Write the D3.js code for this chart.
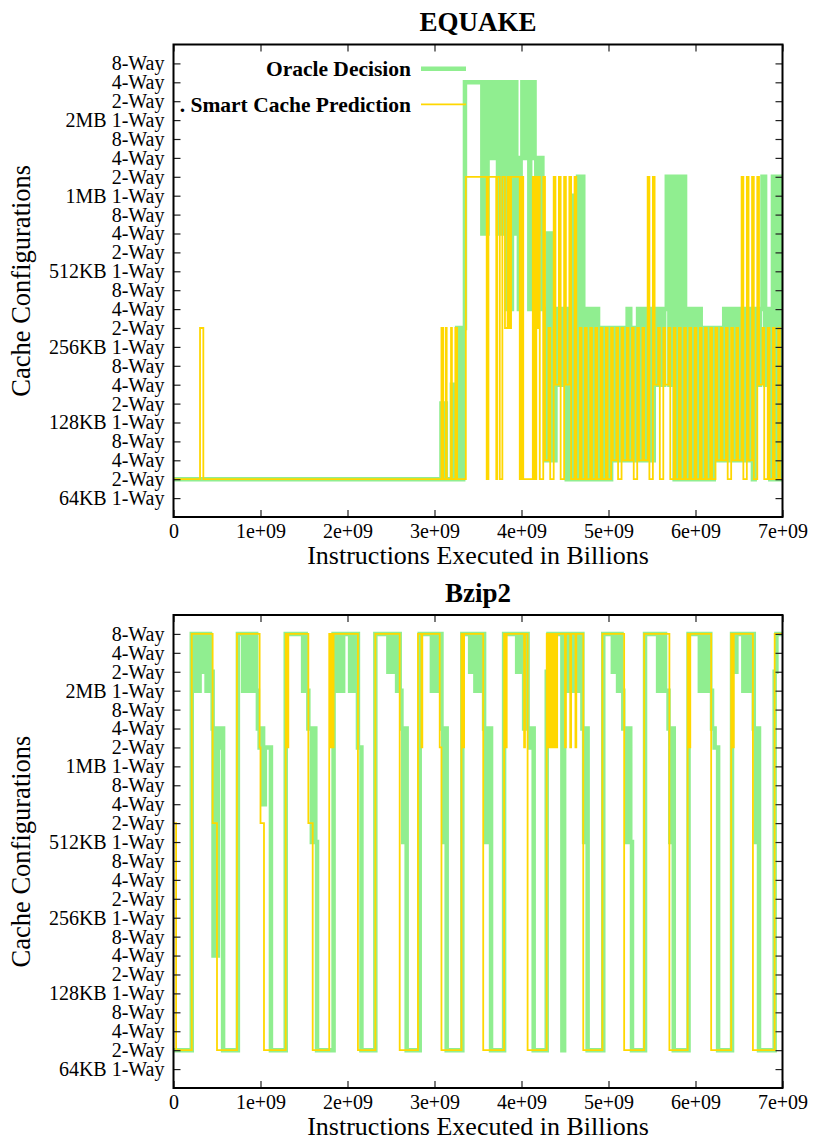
<!DOCTYPE html>
<html><head><meta charset="utf-8">
<script src="https://cdn.jsdelivr.net/npm/d3@7"></script>
<style>
body{margin:0;background:#fff;}
svg text{font-family:"Liberation Serif","Times New Roman",serif;}
</style></head><body>
<svg id="c" width="814" height="1141"></svg>
<script>
// ---------- DATA (x in billions of instructions, y = configuration index) ----------
const yTickLabels = ["64KB 1-Way","2-Way","4-Way","8-Way","128KB 1-Way","2-Way","4-Way","8-Way",
  "256KB 1-Way","2-Way","4-Way","8-Way","512KB 1-Way","2-Way","4-Way","8-Way",
  "1MB 1-Way","2-Way","4-Way","8-Way","2MB 1-Way","2-Way","4-Way","8-Way"];
const xTickValues = [0,1,2,3,4,5,6,7];
const xTickLabels = ["0","1e+09","2e+09","3e+09","4e+09","5e+09","6e+09","7e+09"];
const seriesNames = ["Oracle Decision", ". Smart Cache Prediction"];
const panelTitles = ["EQUAKE","Bzip2"];

const equakeOracle = [
 [0,1],
 [3.08,5],[3.10,1],[3.11,5],[3.13,1],
 [3.20,6],[3.22,1],[3.24,6],[3.26,9],[3.28,1],[3.30,9],[3.32,1],[3.33,9],
 [3.35,22],
 [3.55,14],[3.57,22],[3.59,14],[3.61,22],[3.64,18],[3.66,22],[3.68,18],[3.70,22],
 [3.73,14],[3.75,22],[3.77,14],[3.79,22],[3.82,14],[3.83,10],[3.85,22],[3.87,10],
 [3.89,22],[3.90,14],[3.92,22],[3.94,14],[3.95,18],[3.97,10],[3.99,18],
 [4.01,22],[4.04,18],[4.05,22],[4.07,18],[4.09,10],[4.10,18],[4.12,22],[4.15,18],
 [4.17,14],[4.19,18],[4.21,14],[4.23,18],
 [4.24,10],[4.27,2],[4.30,14],[4.33,2],[4.35,14],[4.37,2],[4.39,10],[4.42,6],[4.45,10],[4.48,6],[4.50,10],
 [4.52,1],[4.55,10],[4.57,1],[4.59,16],[4.61,1],[4.63,16],[4.65,17],[4.67,1],[4.69,17],[4.71,1],
 [4.74,10],[4.77,1],[4.80,10],[4.83,1],[4.86,10],[4.88,1],[4.91,9],[4.94,1],[4.97,9],[5.00,1],[5.03,9],
 [5.05,2],[5.08,9],[5.11,2],[5.14,9],[5.17,2],[5.20,9],[5.22,10],[5.25,2],[5.28,9],[5.31,2],[5.34,10],
 [5.37,2],[5.40,10],[5.43,2],[5.46,10],[5.49,2],[5.52,10],[5.55,6],[5.58,10],[5.61,6],[5.64,10],
 [5.67,17],[5.70,6],[5.73,17],[5.76,1],[5.79,17],[5.82,1],[5.85,17],[5.88,1],[5.91,10],[5.94,1],
 [5.97,10],[6.00,1],[6.03,10],[6.06,1],[6.09,9],[6.12,1],[6.15,9],[6.18,1],[6.21,9],[6.24,2],
 [6.27,9],[6.30,2],[6.33,10],[6.36,2],[6.38,9],[6.41,10],[6.44,2],[6.47,10],[6.49,2],[6.51,10],
 [6.54,2],[6.57,10],[6.60,2],[6.63,10],[6.66,1],[6.68,10],[6.71,6],[6.74,10],[6.77,17],[6.80,6],
 [6.83,10],[6.86,1],[6.89,17],[6.92,1],[6.95,17],[6.98,1],[7.0,17]
];

const equakePrediction = [
 [0,1],[0.305,9],[0.343,1],
 [3.08,9],[3.10,1],[3.13,9],[3.14,1],[3.19,9],[3.20,1],[3.24,9],[3.26,1],
 [3.36,17],[3.60,1],[3.62,17],[3.71,1],[3.72,17],[3.75,1],[3.78,17],[3.81,9],[3.84,17],
 [3.86,9],[3.88,17],[3.98,1],[4.00,17],[4.02,1],[4.13,17],[4.15,1],[4.17,17],[4.18,9],
 [4.19,17],[4.21,1],
 [4.25,17],[4.27,2],[4.31,9],[4.33,1],[4.37,17],[4.39,6],[4.43,17],[4.45,1],[4.49,17],[4.51,6],
 [4.55,17],[4.57,1],[4.61,17],[4.63,1],[4.67,9],[4.69,1],[4.73,9],[4.75,1],[4.79,9],[4.81,1],
 [4.85,9],[4.87,1],[4.91,9],[4.93,1],[4.97,9],[4.99,1],[5.03,9],[5.05,2],[5.09,9],[5.11,1],
 [5.15,9],[5.17,2],[5.21,9],[5.23,2],[5.27,9],[5.29,1],[5.33,9],[5.35,2],[5.39,9],[5.41,2],
 [5.45,17],[5.47,1],[5.51,17],[5.53,6],[5.57,9],[5.59,1],[5.63,9],[5.65,6],[5.69,9],[5.71,1],
 [5.75,9],[5.77,1],[5.81,9],[5.83,1],[5.87,9],[5.89,1],[5.93,9],[5.95,1],[5.99,9],[6.01,1],
 [6.05,9],[6.07,1],[6.11,9],[6.13,1],[6.17,9],[6.19,1],[6.23,9],[6.25,2],[6.29,9],[6.31,2],
 [6.35,9],[6.37,1],[6.41,9],[6.43,2],[6.47,9],[6.49,2],[6.53,17],[6.55,1],[6.59,17],[6.61,2],
 [6.65,17],[6.67,1],[6.71,17],[6.73,6],[6.77,9],[6.79,1],[6.83,9],[6.85,1],[6.89,9],[6.91,1],
 [6.95,9],[6.97,1],[7.0,1]
];

const bzip2Oracle = [
 [0,1],[0.21,23],[0.24,20],[0.26,23],[0.28,20],[0.30,23],[0.34,21],[0.36,23],[0.38,20],[0.40,23],
 [0.42,20],[0.44,21],[0.45,18],[0.46,6],[0.48,18],[0.50,6],[0.51,18],[0.53,17],[0.55,18],[0.57,1],
 [0.74,23],[0.80,20],[0.82,23],[0.84,20],[0.86,23],[0.87,20],[0.88,23],[0.91,20],[0.93,23],[0.95,20],
 [0.97,18],[0.99,17],[1.01,18],[1.03,14],[1.05,17],[1.12,1],
 [1.29,23],[1.49,20],[1.51,23],[1.52,20],[1.55,18],[1.59,12],[1.61,18],[1.63,12],[1.65,1],
 [1.84,23],[1.89,20],[1.91,23],[1.93,20],[1.95,23],[2.03,20],[2.05,23],[2.07,20],[2.09,23],
 [2.12,17],[2.16,1],
 [2.32,23],[2.47,21],[2.49,23],[2.51,21],[2.52,23],[2.57,20],[2.59,23],[2.60,20],[2.62,18],
 [2.64,12],[2.66,18],[2.68,1],
 [2.83,23],[2.97,20],[2.99,23],[3.01,20],[3.03,23],[3.08,18],[3.10,12],[3.12,18],[3.14,1],
 [3.32,23],[3.41,21],[3.43,23],[3.47,20],[3.49,23],[3.51,20],[3.53,23],[3.57,18],[3.59,12],
 [3.62,18],[3.65,1],
 [3.80,23],[3.95,21],[3.97,23],[3.99,21],[4.01,23],[4.03,18],[4.05,23],[4.07,18],[4.09,17],
 [4.11,18],[4.14,1],
 [4.29,21],[4.31,23],[4.33,20],[4.35,23],[4.37,20],[4.39,23],[4.47,1],[4.49,23],[4.52,20],
 [4.54,23],[4.56,20],[4.58,23],[4.60,20],[4.62,23],[4.64,20],[4.66,23],[4.70,18],[4.72,12],
 [4.74,18],[4.76,1],
 [4.94,23],[5.05,21],[5.07,23],[5.09,21],[5.11,20],[5.13,23],[5.15,20],[5.17,18],[5.21,12],
 [5.23,18],[5.25,12],[5.27,1],
 [5.42,23],[5.57,20],[5.59,23],[5.61,20],[5.63,23],[5.65,20],[5.69,18],[5.71,12],[5.73,18],
 [5.75,1],
 [5.92,23],[6.05,20],[6.07,23],[6.09,20],[6.11,23],[6.13,20],[6.15,23],[6.17,20],[6.19,18],
 [6.22,17],[6.26,1],
 [6.42,23],[6.45,21],[6.47,23],[6.55,20],[6.57,23],[6.59,20],[6.61,23],[6.63,20],[6.65,23],
 [6.67,18],[6.69,12],[6.71,18],[6.73,1],
 [6.91,21],[6.93,23],[7.0,23]
];

const bzip2Prediction = [
 [0,13],[0.03,1],[0.21,23],[0.45,13],[0.50,1],
 [0.73,23],[0.99,17],[1.00,13],[1.04,1],
 [1.29,23],[1.31,17],[1.32,23],[1.55,13],[1.60,1],
 [1.79,23],[1.81,17],[1.82,23],[1.83,17],[1.84,23],[2.12,1],
 [2.32,23],[2.60,1],
 [2.81,23],[2.85,17],[2.86,23],[3.06,17],[3.08,1],
 [3.31,23],[3.33,17],[3.34,23],[3.56,1],
 [3.80,23],[3.82,17],[3.83,23],[4.03,17],[4.04,23],[4.07,1],
 [4.29,23],[4.30,17],[4.31,23],[4.32,17],[4.33,23],[4.34,17],[4.35,23],[4.36,17],[4.37,23],
 [4.38,17],[4.39,23],[4.40,17],[4.41,23],[4.50,17],[4.51,23],[4.56,17],[4.57,23],[4.62,17],[4.63,23],
 [4.71,1],
 [4.93,23],[5.18,1],
 [5.41,23],[5.70,1],
 [5.91,23],[5.93,17],[5.94,23],[6.18,1],
 [6.41,23],[6.43,17],[6.44,23],[6.66,1],
 [6.91,23],[7.0,23]
];

// ---------- DRAWING ----------
const FONT = '"Liberation Serif","Times New Roman",serif';
const GREEN = "#90EE90", GOLD = "#FFD700";
const svg = d3.select("#c");
const x = d3.scaleLinear().domain([0, 7e9]).range([173.5, 782.5]);
const [x0, x1] = x.range();

const panels = [
  {title: panelTitles[0], oracle: equakeOracle, pred: equakePrediction, top: 44.5, bottom: 517, legend: true},
  {title: panelTitles[1], oracle: bzip2Oracle, pred: bzip2Prediction, top: 615, bottom: 1088, legend: false}
];

panels.forEach((p, k) => {
  const y = d3.scaleLinear().domain([-1, 24]).range([p.bottom, p.top]);
  const g = svg.append("g").attr("font-family", FONT);
  const clipId = "clip" + k;
  svg.append("clipPath").attr("id", clipId).append("rect")
    .attr("x", x0).attr("y", p.top).attr("width", x1 - x0).attr("height", p.bottom - p.top);

  const line = d3.line().x(d => x(d[0] * 1e9)).y(d => y(d[1])).curve(d3.curveStepAfter);

  g.append("path").datum(p.oracle).attr("d", line).attr("fill", "none")
    .attr("stroke", GREEN).attr("stroke-width", 4.5).attr("clip-path", `url(#${clipId})`);
  g.append("path").datum(p.pred).attr("d", line).attr("fill", "none")
    .attr("stroke", GOLD).attr("stroke-width", 1.8).attr("clip-path", `url(#${clipId})`);

  const styleAxis = a => {
    a.select(".domain").remove();
    a.attr("font-family", FONT).attr("font-size", 20);
    a.selectAll(".tick line").attr("stroke", "#222").attr("stroke-width", 1.2);
    a.selectAll(".tick text").attr("fill", "#000").attr("font-family", FONT);
  };

  g.append("g").attr("transform", `translate(${x0},0)`)
    .call(d3.axisLeft(y).tickValues(d3.range(24)).tickFormat(i => yTickLabels[i]).tickSize(-7).tickPadding(9))
    .call(styleAxis);
  g.append("g").attr("transform", `translate(${x1},0)`)
    .call(d3.axisRight(y).tickValues(d3.range(24)).tickFormat("").tickSize(-7))
    .call(styleAxis);
  g.append("g").attr("transform", `translate(0,${p.bottom})`)
    .call(d3.axisBottom(x).tickValues(xTickValues.map(v => v * 1e9)).tickFormat((d, i) => xTickLabels[i]).tickSize(-7).tickPadding(7))
    .call(styleAxis);
  g.append("g").attr("transform", `translate(0,${p.top})`)
    .call(d3.axisTop(x).tickValues(xTickValues.map(v => v * 1e9)).tickFormat("").tickSize(-7))
    .call(styleAxis);

  g.append("rect").attr("x", x0).attr("y", p.top).attr("width", x1 - x0).attr("height", p.bottom - p.top)
    .attr("fill", "none").attr("stroke", "#000").attr("stroke-width", 2);

  g.append("text").attr("x", (x0 + x1) / 2).attr("y", p.top - 13.5).attr("font-family", FONT)
    .attr("text-anchor", "middle").attr("font-weight", "bold").attr("font-size", 27).text(p.title);

  g.append("text").attr("x", (x0 + x1) / 2).attr("y", p.bottom + 47).attr("font-family", FONT)
    .attr("text-anchor", "middle").attr("font-size", 26).text("Instructions Executed in Billions");

  const cy = (p.top + p.bottom) / 2;
  g.append("text").attr("transform", `translate(30,${cy}) rotate(-90)`).attr("font-family", FONT)
    .attr("text-anchor", "middle").attr("font-size", 26.5).text("Cache Configurations");

  if (p.legend) {
    const items = [{name: seriesNames[0], color: GREEN, w: 4.5, ty: 76, ly: 68.7},
                   {name: seriesNames[1], color: GOLD, w: 1.8, ty: 111.5, ly: 104.3}];
    items.forEach(it => {
      g.append("text").attr("x", 411).attr("y", it.ty).attr("text-anchor", "end").attr("font-family", FONT)
        .attr("font-weight", "bold").attr("font-size", 21.5).text(it.name);
      g.append("line").attr("x1", 421).attr("x2", 466).attr("y1", it.ly).attr("y2", it.ly)
        .attr("stroke", it.color).attr("stroke-width", it.w);
    });
  }
});
</script>
</body></html>
